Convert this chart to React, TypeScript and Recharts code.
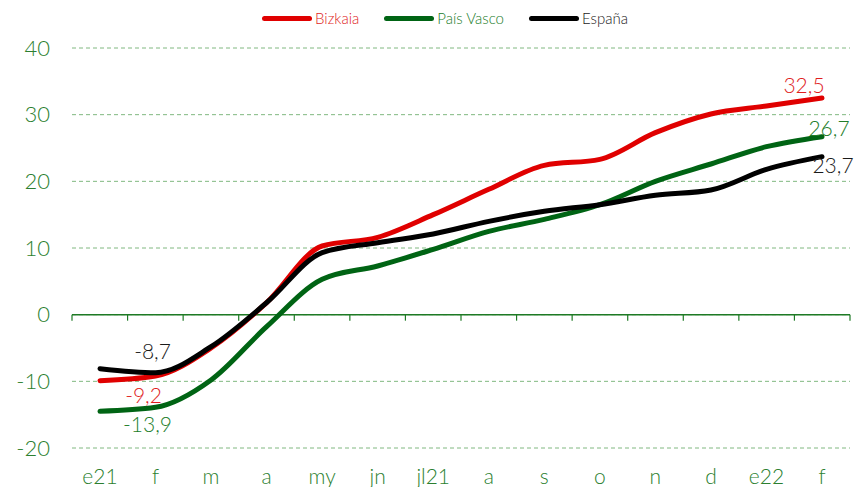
import { LineChart, Line, XAxis, YAxis, CartesianGrid, ReferenceLine } from 'recharts'

const months = ['e21', 'f', 'm', 'a', 'my', 'jn', 'jl21', 'a', 's', 'o', 'n', 'd', 'e22', 'f']
const bizkaia = [-9.9, -9.2, -5.0, 1.8, 10.3, 11.6, 15.0, 18.8, 22.4, 23.3, 27.3, 30.1, 31.3, 32.5]
const paisVasco = [-14.5, -13.9, -9.8, -1.8, 5.3, 7.3, 9.8, 12.5, 14.3, 16.5, 20.0, 22.6, 25.2, 26.7]
const espana = [-8.1, -8.7, -4.8, 1.8, 9.3, 10.8, 12.1, 14.0, 15.5, 16.5, 17.9, 18.7, 21.8, 23.7]
const yTicks = [-20, -10, 0, 10, 20, 30, 40]
const labelled = [1, 13]

const data = months.map((m, i) => ({
  idx: i,
  month: m,
  bizkaia: bizkaia[i],
  paisVasco: paisVasco[i],
  espana: espana[i],
}))

const axisGreen = '#2c7f30'

const series = [
  { key: 'bizkaia', name: 'Bizkaia', color: '#e00000', text: '#e01e1e' },
  { key: 'paisVasco', name: 'País Vasco', color: '#006414', text: '#227d2a' },
  { key: 'espana', name: 'España', color: '#000000', text: '#1a1a1a' },
]

// where each value label sits, relative to its point (first labelled point, last one)
const labelPlacement: Record<string, Array<{ dx: number; dy: number }>> = {
  bizkaia: [{ dx: -12, dy: 18 }, { dx: -18, dy: -14 }],
  paisVasco: [{ dx: -8, dy: 16 }, { dx: 7, dy: -9 }],
  espana: [{ dx: -3, dy: -22 }, { dx: 11, dy: 8 }],
}

const fmt = (v: number) => v.toFixed(1).replace('.', ',')

function makeLabel(key: string, color: string) {
  return (props: any) => {
    const { x, y, index, value } = props
    const pos = labelled.indexOf(index)
    if (pos < 0) return null
    const p = labelPlacement[key][pos]
    return (
      <text
        key={`${key}-${index}`}
        x={x + p.dx}
        y={y + p.dy}
        fill={color}
        fontSize={21}
        fontWeight={300}
        textAnchor="middle"
        dominantBaseline="central"
      >
        {fmt(value)}
      </text>
    )
  }
}

function ZeroAxis(props: any) {
  const { x1, x2, y1 } = props
  const n = months.length
  const step = (x2 - x1) / n
  return (
    <g>
      <line x1={x1} x2={x2} y1={y1} y2={y1} stroke="#1e7a25" strokeWidth={1.5} />
      {Array.from({ length: n + 1 }, (_, i) => (
        <line
          key={i}
          x1={x1 + i * step}
          x2={x1 + i * step}
          y1={y1}
          y2={y1 + 6}
          stroke="#1e7a25"
          strokeWidth={1.2}
        />
      ))}
    </g>
  )
}

function ChartLegend() {
  return (
    <div
      style={{
        position: 'absolute',
        top: 9,
        left: 262,
        display: 'flex',
        alignItems: 'center',
        fontFamily: 'Lato',
        fontWeight: 300,
        fontSize: 15,
      }}
    >
      {series.map((s) => (
        <div key={s.key} style={{ display: 'flex', alignItems: 'center', marginRight: 25 }}>
          <span
            style={{
              display: 'inline-block',
              width: 50,
              height: 5,
              borderRadius: 3,
              background: s.color,
              marginRight: 3,
            }}
          />
          <span style={{ color: s.text }}>{s.name}</span>
        </div>
      ))}
    </div>
  )
}

export default function App() {
  return (
    <div style={{ position: 'absolute', top: 0, left: 0, width: 866, height: 487, background: '#fff' }}>
      <ChartLegend />
      <LineChart
        width={866}
        height={487}
        data={data}
        margin={{ top: 48, right: 16, bottom: 0, left: 0 }}
        style={{ fontFamily: 'Lato', fontWeight: 300 }}
      >
        <CartesianGrid vertical={false} stroke="#80b880" strokeDasharray="4 3" />
        <XAxis
          dataKey="idx"
          type="category"
          tickFormatter={(i: number) => months[i]}
          padding={{ left: 28, right: 28 }}
          height={39}
          axisLine={false}
          tickLine={false}
          tickSize={0}
          tickMargin={21}
          tick={{ fill: axisGreen, fontSize: 21 }}
          interval={0}
        />
        <YAxis
          domain={[-20, 40]}
          ticks={yTicks}
          width={72}
          axisLine={false}
          tickLine={false}
          tickSize={0}
          tickMargin={22}
          tick={{ fill: axisGreen, fontSize: 22 }}
        />
        <ReferenceLine y={0} shape={ZeroAxis} />
        {series.map((s) => (
          <Line
            key={s.key}
            type="monotone"
            dataKey={s.key}
            name={s.name}
            stroke={s.color}
            strokeWidth={5}
            strokeLinecap="round"
            dot={false}
            activeDot={false}
            isAnimationActive={false}
            label={makeLabel(s.key, s.text)}
          />
        ))}
      </LineChart>
    </div>
  )
}
